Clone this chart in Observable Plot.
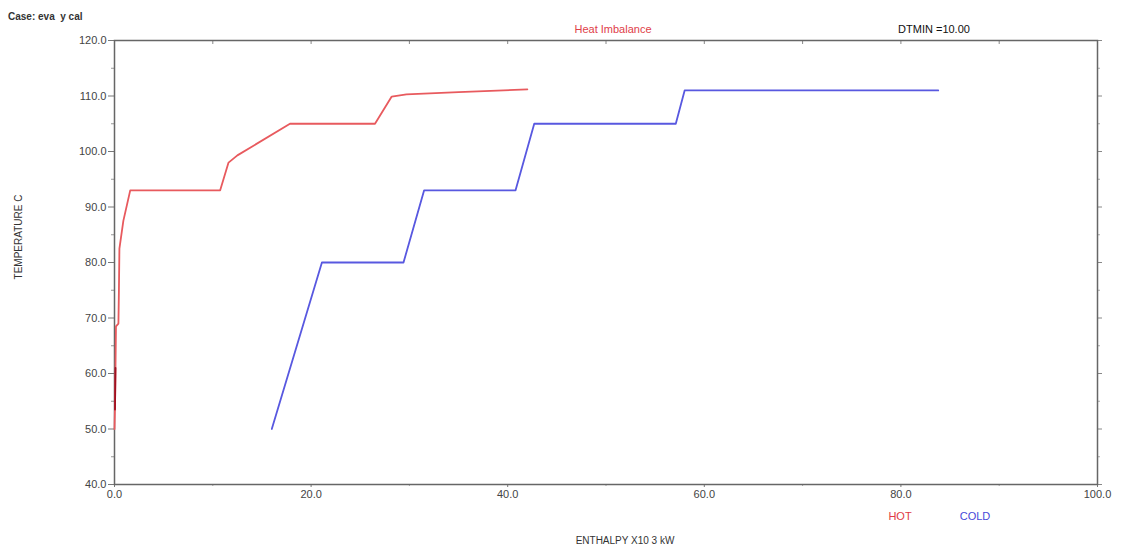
<!DOCTYPE html>
<html>
<head>
<meta charset="utf-8">
<script src="https://cdn.jsdelivr.net/npm/d3@7"></script>
<script src="https://cdn.jsdelivr.net/npm/@observablehq/plot@0.6"></script>
<style>
  html, body { margin: 0; padding: 0; background: #fff; }
  #wrap { position: relative; width: 1125px; height: 549px; font-family: "Liberation Sans", Arial, sans-serif; }
  .lbl { position: absolute; white-space: pre; transform: translate(-50%, -50%); }
</style>
</head>
<body>
<div id="wrap"></div>
<script>
// Hot composite curve: enthalpy (x10^3 kW), temperature (C)
const hotH = [0, 0.05, 0.1, 0.15, 0.4, 0.45, 0.5, 0.9, 1.6, 10.75, 11.6, 12.5, 17.85, 26.5, 28.2, 29.7, 35, 42.0];
const hotT = [50, 54, 61, 68.5, 69, 75, 82.5, 87.5, 93, 93, 98, 99.3, 105, 105, 109.9, 110.3, 110.7, 111.2];
// Dark overlapping segment near origin
const darkH = [0.05, 0.08, 0.1];
const darkT = [53.5, 58, 61];
// Cold composite curve
const coldH = [16.0, 21.1, 29.4, 31.5, 40.8, 42.7, 57.1, 58.0, 83.8];
const coldT = [50, 80, 80, 93, 93, 105, 105, 111, 111];

const xMajor = [0, 20, 40, 60, 80, 100];
const xMinor = [10, 30, 50, 70, 90];
const xTop = [10, 20, 30, 40, 50, 60, 70, 80, 90];
const yMajor = [40, 50, 60, 70, 80, 90, 100, 110, 120];
const yMinor = [45, 55, 65, 75, 85, 95, 105, 115];

const hot = hotH.map((h, i) => ({h, t: hotT[i]}));
const dark = darkH.map((h, i) => ({h, t: darkT[i]}));
const cold = coldH.map((h, i) => ({h, t: coldT[i]}));

const W = 1125, H = 549, mT = 40, mB = 65, mL = 114, mR = 28;
const innerH = H - mT - mB;

const chart = Plot.plot({
  width: W, height: H,
  marginTop: mT, marginBottom: mB, marginLeft: mL, marginRight: mR,
  style: {fontFamily: '"Liberation Sans", Arial, sans-serif', fontSize: "11px", color: "#333", background: "white"},
  x: {domain: [0, 100]},
  y: {domain: [40, 120]},
  marks: [
    Plot.axisY(yMajor, {anchor: "left", tickSize: 6, tickPadding: 2, tickFormat: d => d.toFixed(1), label: null, stroke: "#777", fill: "#444", fontSize: 11}),
    Plot.axisY(yMinor, {anchor: "left", tickSize: 3, tickFormat: () => "", label: null, stroke: "#999"}),
    Plot.axisY(yMajor, {anchor: "right", tickSize: 4, tickFormat: () => "", label: null, stroke: "#888"}),
    Plot.axisY(yMinor, {anchor: "right", tickSize: 2, tickFormat: () => "", label: null, stroke: "#aaa"}),
    Plot.axisX(xMajor, {anchor: "bottom", tickSize: 3, tickPadding: 3, tickFormat: d => d.toFixed(1), label: null, stroke: "#777", fill: "#444", fontSize: 11}),
    Plot.axisX(xMinor, {anchor: "bottom", tickSize: 2, tickFormat: () => "", label: null, stroke: "#aaa"}),
    Plot.tickX(xTop, {x: d => d, insetBottom: innerH - 4, stroke: "#888"}),
    Plot.frame({stroke: "#666", strokeWidth: 1.5}),
    Plot.line(hot, {x: "h", y: "t", stroke: "#e85a5e", strokeWidth: 1.8}),
    Plot.line(dark, {x: "h", y: "t", stroke: "#a01020", strokeWidth: 1.8}),
    Plot.line(cold, {x: "h", y: "t", stroke: "#5858e0", strokeWidth: 1.8})
  ]
});

const wrap = document.getElementById("wrap");
wrap.appendChild(chart);

function label(text, x, y, opts = {}) {
  const d = document.createElement("div");
  d.className = "lbl";
  d.textContent = text;
  d.style.left = x + "px";
  d.style.top = y + "px";
  d.style.fontSize = (opts.size || 11) + "px";
  d.style.color = opts.color || "#222";
  if (opts.rotate) d.style.transform = "translate(-50%, -50%) rotate(-90deg)";
  if (opts.left) d.style.transform = "translate(0, -50%)";
  if (opts.weight) d.style.fontWeight = opts.weight;
  wrap.appendChild(d);
}
label("Case: eva  y cal", 8, 16, {size: 10, color: "#333", left: true, weight: "bold"});
label("Heat Imbalance", 613, 29, {color: "#e04048"});
label("DTMIN =10.00", 934, 29, {color: "#111"});
label("TEMPERATURE C", 18, 237, {size: 10, color: "#333", rotate: true});
label("ENTHALPY X10 3 kW", 625, 540, {size: 10, color: "#333"});
label("HOT", 900, 516, {color: "#e03a44"});
label("COLD", 975, 516, {color: "#4848d8"});
</script>
</body>
</html>
